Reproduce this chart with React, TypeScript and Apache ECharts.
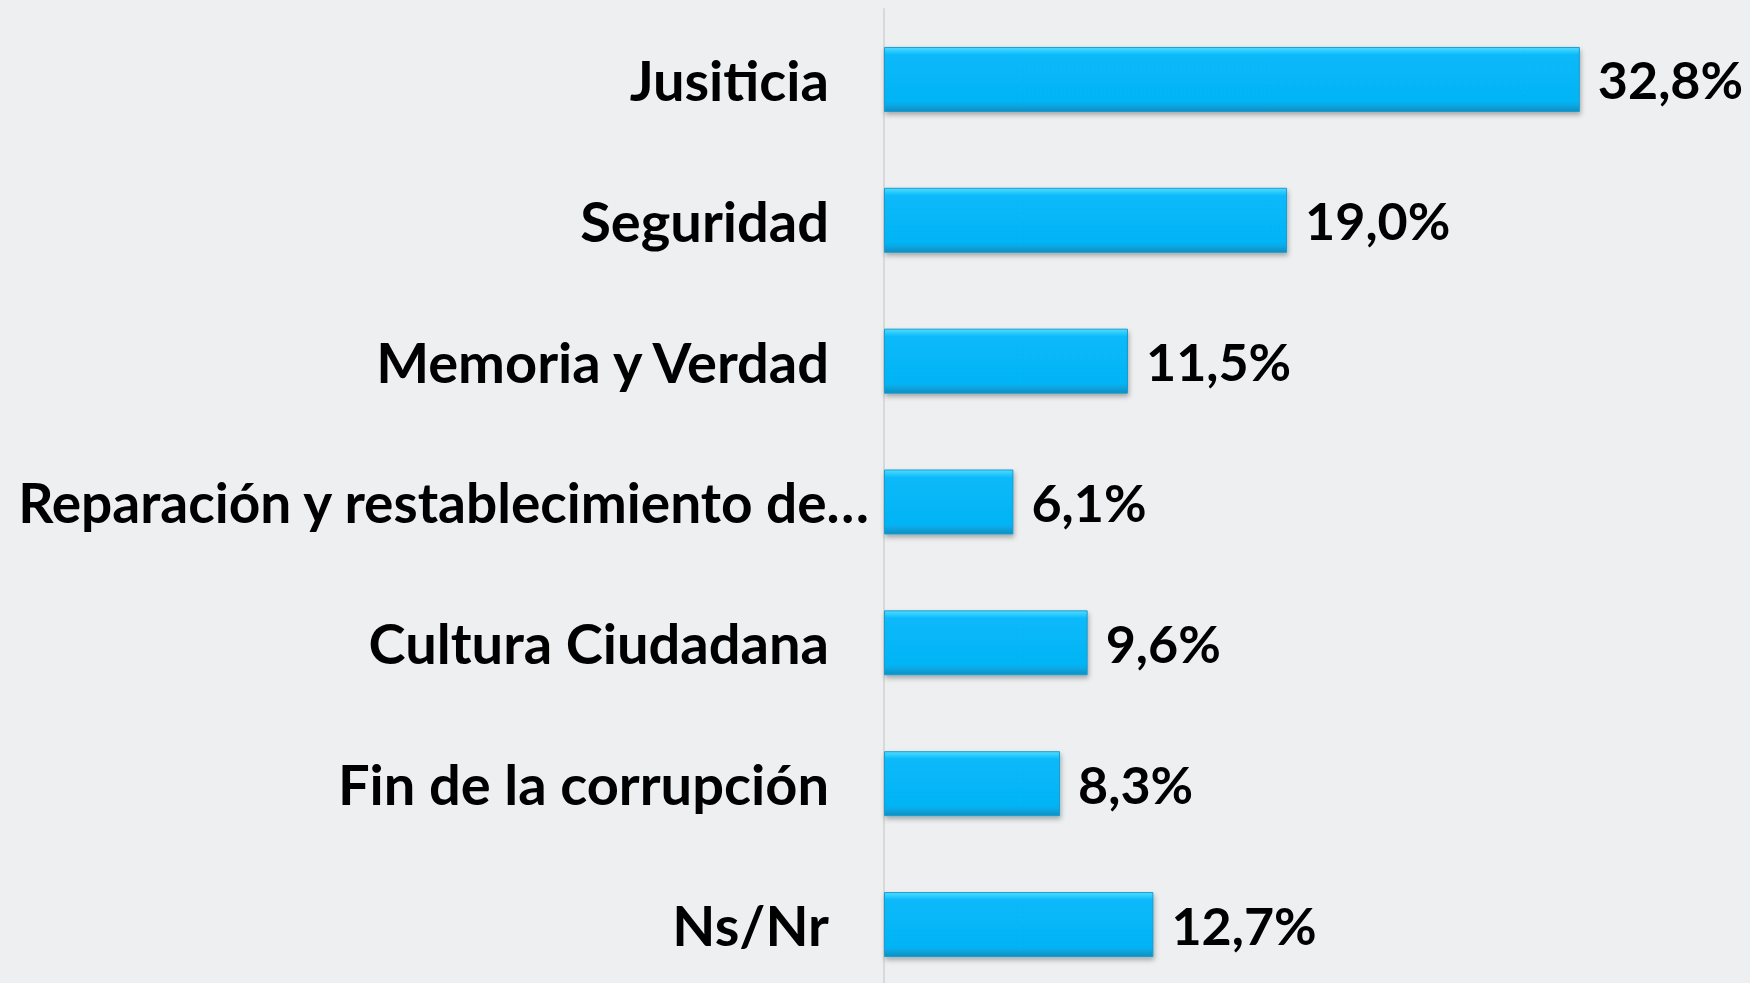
import React, { useEffect, useRef } from "react";
import * as echarts from "echarts";

const categories = [
  "Jusiticia",
  "Seguridad",
  "Memoria y Verdad",
  "Reparación y restablecimiento de…",
  "Cultura Ciudadana",
  "Fin de la corrupción",
  "Ns/Nr",
];
const values = [32.8, 19.0, 11.5, 6.1, 9.6, 8.3, 12.7];
const longLabel = "Reparación y restablecimiento de…";

export default function App() {
  const ref = useRef<HTMLDivElement>(null);
  useEffect(() => {
    document.body.style.margin = "0";
    document.body.style.overflow = "hidden";
    document.body.style.background = "#eeeff1";
    if (!ref.current) return;
    const chart = echarts.init(ref.current, undefined, { renderer: "svg" });
    const catFont = {
      fontFamily: "Lato",
      fontWeight: "bold" as const,
      fontSize: 56,
      color: "#000",
    };
    const valFont = {
      fontFamily: "Lato",
      fontWeight: "bold" as const,
      fontSize: 52,
      color: "#000",
    };
    chart.setOption({
      animation: false,
      backgroundColor: "#eeeff1",
      grid: {
        left: 884,
        top: 9,
        width: 848.6,
        height: 986,
        outerBoundsMode: "none",
        containLabel: false,
      },
      xAxis: {
        type: "value",
        min: 0,
        max: 40,
        show: false,
      },
      yAxis: [
        {
          type: "category",
          data: categories,
          inverse: true,
          axisLine: { show: true, lineStyle: { color: "#d9d9d9", width: 2 } },
          axisTick: { show: false },
          axisLabel: {
            ...catFont,
            margin: 55,
            formatter: (v: string) => (v === longLabel ? "" : v),
          },
        },
        {
          type: "category",
          data: categories,
          inverse: true,
          position: "left",
          axisLine: { show: false },
          axisTick: { show: false },
          axisLabel: {
            ...catFont,
            fontSize: 55,
            margin: 15,
            formatter: (v: string) => (v === longLabel ? v : ""),
          },
        },
      ],
      series: [
        {
          type: "bar",
          data: values,
          barWidth: 65,
          itemStyle: {
            color: {
              type: "linear",
              x: 0,
              y: 0,
              x2: 0,
              y2: 1,
              colorStops: [
                { offset: 0, color: "#4fdcff" },
                { offset: 0.12, color: "#07b9fa" },
                { offset: 0.85, color: "#06b4f5" },
                { offset: 1, color: "#0a8fc2" },
              ],
            },
            borderColor: "#1a9ccc",
            borderWidth: 1,
            shadowBlur: 5,
            shadowOffsetY: 3,
            shadowOffsetX: 1,
            shadowColor: "rgba(0,0,0,0.3)",
          },
          label: {
            show: true,
            position: "right",
            distance: 18,
            ...valFont,
            formatter: (p: any) => p.value.toFixed(1).replace(".", ",") + "%",
          },
        },
      ],
    });
    return () => chart.dispose();
  }, []);
  return <div ref={ref} style={{ width: 1750, height: 983 }} />;
}
